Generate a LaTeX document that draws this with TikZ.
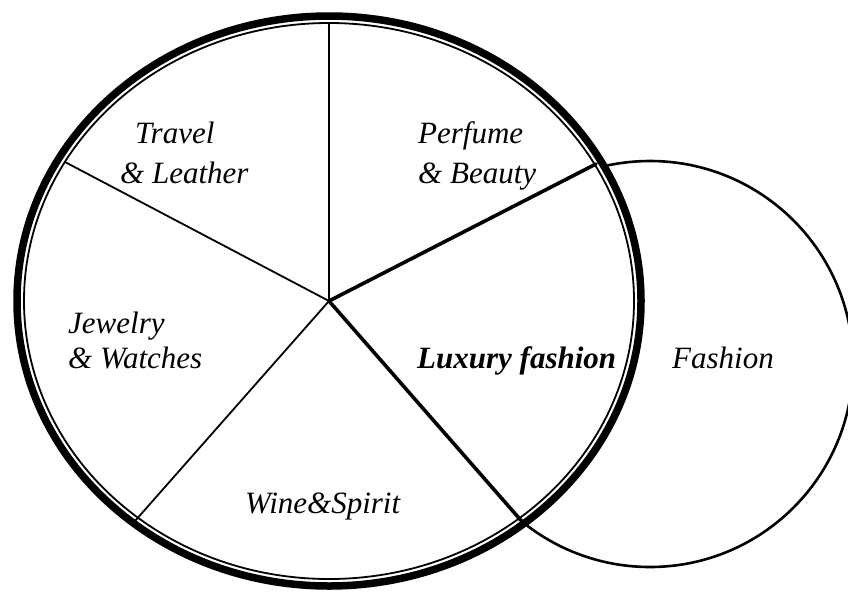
\documentclass[tikz,border=0pt]{standalone}
\usepackage{fontspec}
\setmainfont{Liberation Serif}
\begin{document}
\begin{tikzpicture}[x=1pt,y=-1pt,
  lbl/.style={inner sep=0pt,font=\fontsize{31}{36}\selectfont\itshape},
  thinsec/.style={line width=1.8pt},
  thicksec/.style={line width=3.6pt},
  outerring/.style={line width=7.5pt},
  innerring/.style={line width=1.8pt},
  fashring/.style={line width=2.6pt}]
\useasboundingbox (0,0) rectangle (848,592);
\coordinate (c) at (329,301);
\coordinate (t) at (329,24);
\coordinate (ul) at (65,162);
\coordinate (ll) at (135,521);
\coordinate (lr) at (525,525);
\coordinate (ur) at (596,164);
% Fashion circle outside big ellipse
\begin{scope}[even odd rule]
  \clip (-10,-10) rectangle (860,600) (c) ellipse [x radius=312,y radius=285];
  \draw[fashring] (650,364) circle [radius=203];
\end{scope}
% big ellipse
\draw[outerring] (c) ellipse [x radius=312,y radius=285];
\draw[innerring] (c) ellipse [x radius=305,y radius=278];
% sectors
\draw[thinsec] (c) -- (t);
\draw[thinsec] (c) -- (ul);
\draw[thinsec] (c) -- (ll);
\draw[thicksec,line cap=round] (c) -- (lr);
\draw[thicksec,line cap=round] (c) -- (ur);
% labels
\node[lbl,anchor=base west] (tr1) at (135,143) {Travel};
\node[lbl,anchor=base west] (tr2) at (120,183) {\& Leather};
\node[lbl,anchor=base west] (pb1) at (418,143) {Perfume};
\node[lbl,anchor=base west] (pb2) at (418,183) {\& Beauty};
\node[lbl,anchor=base west] (jw1) at (68,333) {Jewelry};
\node[lbl,anchor=base west] (jw2) at (68,368) {\& Watches};
\node[lbl,anchor=base west,font=\fontsize{31}{36}\selectfont\bfseries\itshape] (lux) at (417,368) {Luxury fashion};
\node[lbl,anchor=base west] (fa) at (672,368) {Fashion};
\node[lbl,anchor=base west] (ws) at (245,513) {Wine\&Spirit};
\end{tikzpicture}
\end{document}
